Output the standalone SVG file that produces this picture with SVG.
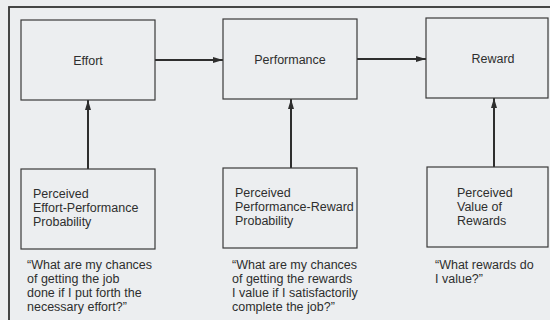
<svg xmlns="http://www.w3.org/2000/svg" width="550" height="320" viewBox="0 0 550 320">
  <style>
    text { font-family: "Liberation Sans", Arial, sans-serif; font-size: 12.5px; fill: #2e2e2e; }
    .box { fill: none; stroke: #3a3a3a; stroke-width: 1.2; }
    .conn { stroke: #2e2e2e; stroke-width: 2; fill: none; }
    .mid { text-anchor: middle; }
  </style>
  <defs>
    <marker id="ah" viewBox="0 0 10 6" refX="10" refY="3" markerWidth="10" markerHeight="6" markerUnits="userSpaceOnUse" orient="auto">
      <path d="M0,0 L10,3 L0,6 z" fill="#2e2e2e"/>
    </marker>
  </defs>
  <rect x="0" y="0" width="550" height="320" fill="#eceef0"/>
  <rect id="frame" x="9" y="7" width="570" height="340" fill="none" stroke="#333" stroke-width="1.8"/>

  <g id="connectors">
    <line class="conn" x1="155" y1="60" x2="223" y2="60" marker-end="url(#ah)"/>
    <line class="conn" x1="357" y1="59" x2="426" y2="59" marker-end="url(#ah)"/>
    <line class="conn" x1="88" y1="169" x2="88" y2="100" marker-end="url(#ah)"/>
    <line class="conn" x1="291" y1="168" x2="291" y2="99" marker-end="url(#ah)"/>
    <line class="conn" x1="494" y1="167" x2="494" y2="98" marker-end="url(#ah)"/>
  </g>

  <g id="effort">
    <rect class="box" x="21" y="20" width="134" height="80"/>
    <text class="mid" x="88" y="65">Effort</text>
  </g>
  <g id="performance">
    <rect class="box" x="223" y="19" width="134" height="80"/>
    <text class="mid" x="290" y="64">Performance</text>
  </g>
  <g id="reward">
    <rect class="box" x="426" y="18" width="122" height="80"/>
    <text class="mid" x="493" y="63">Reward</text>
  </g>

  <g id="effort-performance">
    <rect class="box" x="21" y="169" width="134" height="80"/>
    <text x="33" y="198">Perceived</text>
    <text x="33" y="212">Effort-Performance</text>
    <text x="33" y="226">Probability</text>
  </g>
  <g id="performance-reward">
    <rect class="box" x="223" y="168" width="134" height="80"/>
    <text x="235" y="197">Perceived</text>
    <text x="235" y="211">Performance-Reward</text>
    <text x="235" y="225">Probability</text>
  </g>
  <g id="value-of-rewards">
    <rect class="box" x="427" y="167" width="121" height="80"/>
    <text x="457" y="197">Perceived</text>
    <text x="457" y="211">Value of</text>
    <text x="457" y="225">Rewards</text>
  </g>

  <g id="captions">
    <text x="27" y="269">“What are my chances</text>
    <text x="27" y="283">of getting the job</text>
    <text x="27" y="297">done if I put forth the</text>
    <text x="27" y="311">necessary effort?”</text>
    <text x="232" y="269">“What are my chances</text>
    <text x="232" y="283">of getting the rewards</text>
    <text x="232" y="297">I value if I satisfactorily</text>
    <text x="232" y="311">complete the job?”</text>
    <text x="435" y="269">“What rewards do</text>
    <text x="435" y="283">I value?”</text>
  </g>
</svg>
